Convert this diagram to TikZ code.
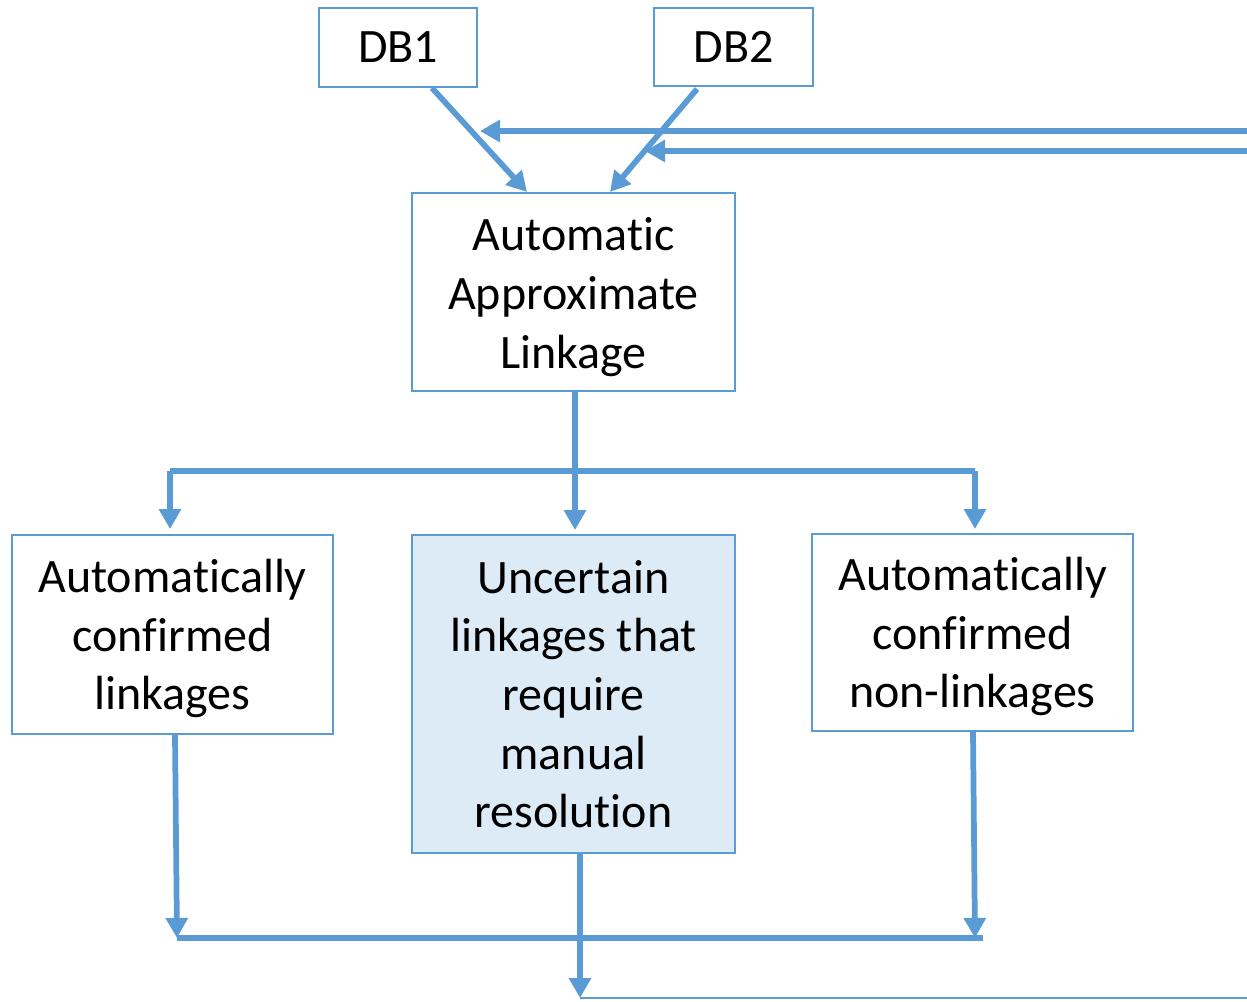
\documentclass[tikz,border=0pt]{standalone}
\usepackage{fontspec}
\setmainfont[Ligatures=NoCommon]{Carlito}
\usetikzlibrary{arrows.meta}
\definecolor{lb}{HTML}{5B9BD5}
\definecolor{fillb}{HTML}{DDEBF7}
\tikzset{
  box/.style={draw=lb, line width=1.5pt, align=center, inner sep=0pt,
    font=\fontsize{36}{44}\selectfont, text=black},
  conn/.style={draw=lb, line width=4.3pt, -{Triangle[length=15pt,width=16pt]}},
  plain/.style={draw=lb, line width=4.3pt},
}
\begin{document}
\begin{tikzpicture}[x=0.75pt,y=-0.75pt]
\useasboundingbox (0,0) rectangle (1247,1001);
\node[box, minimum width=118.5pt, minimum height=59.25pt] (db1) at (398,47.5) {DB1};
\node[box, minimum width=119.25pt, minimum height=58.5pt] (db2) at (733.5,47) {DB2};
\node[box, minimum width=242.25pt, minimum height=148.5pt] (aal) at (573.5,292) {\parbox{200pt}{\vspace*{7.5pt}\centering Automatic\\Approximate\\Linkage}};
\node[box, minimum width=240.75pt, minimum height=149.25pt] (left) at (172.5,634.5) {\parbox{230pt}{\vspace*{6pt}\centering Automatically\\confirmed\\linkages}};
\node[box, fill=fillb, minimum width=242.25pt, minimum height=238.5pt] (mid) at (573.5,694) {Uncertain\\linkages that\\require\\manual\\resolution};
\node[box, minimum width=240.75pt, minimum height=147.75pt] (right) at (972.5,632.5) {\parbox{230pt}{\vspace*{6pt}\centering Automatically\\confirmed\\non-linkages}};
% coordinates
\coordinate (db1b) at (432,88);
\coordinate (aalt1) at (527,192);
\coordinate (db2b) at (697,89);
\coordinate (aalt2) at (610,192);
\coordinate (fb1s) at (1247,131);
\coordinate (fb1e) at (480,131);
\coordinate (fb2s) at (1247,151);
\coordinate (fb2e) at (645,151);
\coordinate (aalb) at (575,392);
\coordinate (midt) at (575,530);
\coordinate (hl) at (170,471);
\coordinate (hr) at (975,471);
\coordinate (lt) at (170,529);
\coordinate (rt) at (975,529);
\coordinate (lb) at (175,735);
\coordinate (lbe) at (177,938);
\coordinate (rb) at (973,732);
\coordinate (rbe) at (975,938);
\coordinate (bl) at (177,938);
\coordinate (br) at (983,938);
\coordinate (midb) at (580,854);
\coordinate (out) at (580,998);
\coordinate (outr) at (1247,998);
% connectors
\draw[conn] (db1b) -- (aalt1);
\draw[conn] (db2b) -- (aalt2);
\draw[conn] (fb1s) -- (fb1e);
\draw[conn] (fb2s) -- (fb2e);
\draw[plain] (hl) -- (hr);
\draw[conn] (hl) -- (lt);
\draw[conn] (hr) -- (rt);
\draw[conn] (aalb) -- (midt);
\draw[conn] (lb) -- (lbe);
\draw[conn] (rb) -- (rbe);
\draw[draw=lb, line width=5pt] (bl) -- (br);
\draw[conn] (midb) -- (out);
\draw[draw=lb, line width=1.5pt] (out) -- (outr);
\end{tikzpicture}
\end{document}
